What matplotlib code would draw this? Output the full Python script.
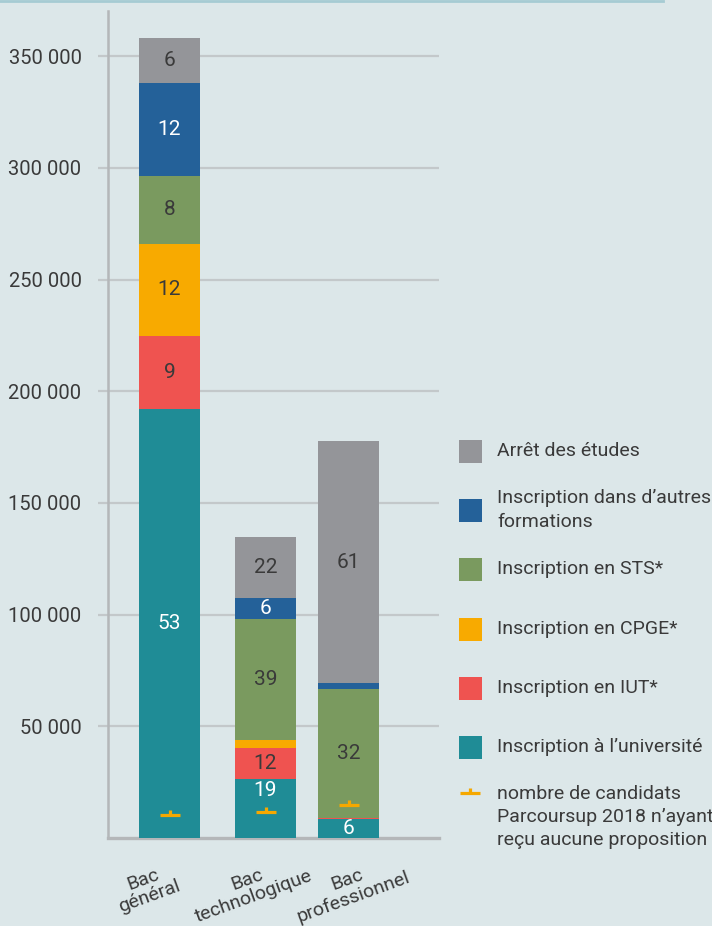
import matplotlib
matplotlib.use("Agg")
import matplotlib.pyplot as plt
from matplotlib import font_manager as fm
from matplotlib.path import Path
from matplotlib.patches import Rectangle
from matplotlib.lines import Line2D

# pick a condensed font if one is installed
fams = {}
for f in fm.fontManager.ttflist:
    fams.setdefault(f.name, set()).add(str(f.stretch))
FS = 14.0
STRETCH = 'normal'
FAMILY = ['Roboto', 'DejaVu Sans']
if 'Liberation Sans Narrow' in fams:
    FAMILY = ['Liberation Sans Narrow', 'DejaVu Sans']
    FS = 15.5
elif 'Noto Sans' in fams and (fams['Noto Sans'] & {'condensed', '300', '62.5', '75'}):
    FAMILY = ['Noto Sans', 'DejaVu Sans']
    STRETCH = 'condensed'
    FS = 15.5
elif 'Noto Sans' in fams and (fams['Noto Sans'] & {'semi-condensed', '87.5', '400'}):
    FAMILY = ['Noto Sans', 'DejaVu Sans']
    STRETCH = 'semi-condensed'
    FS = 14.5
plt.rcParams['font.family'] = FAMILY
plt.rcParams['font.stretch'] = STRETCH

# ---------------- data ----------------
categories = ['Bac\ngénéral', 'Bac\ntechnologique', 'Bac\nprofessionnel']
series_names = ['Inscription à l’université', 'Inscription en IUT*', 'Inscription en CPGE*',
                'Inscription en STS*', 'Inscription dans d’autres\nformations', 'Arrêt des études']
univ = [192000, 26500, 8300]
iut = [32700, 14000, 700]
cpge = [41200, 3200, 0]
sts = [30600, 54500, 57500]
autres = [41600, 9200, 2700]
arret = [20000, 27500, 108500]
univ_lbl = ['53', '19', '6']
iut_lbl = ['9', '12', '']
cpge_lbl = ['12', '', '']
sts_lbl = ['8', '39', '32']
autres_lbl = ['12', '6', '']
arret_lbl = ['6', '22', '61']
no_offer = [10400, 11800, 14800]
no_offer_name = 'nombre de candidats\nParcoursup 2018 n’ayant\nreçu aucune proposition'
yticks = [50000, 100000, 150000, 200000, 250000, 300000, 350000]

# ---------------- style ----------------
colors = ['#1f8c96', '#ef5350', '#f8aa00', '#7a9a5f', '#246199', '#949599']
txt_colors = ['white', '#3a3a3a', '#3a3a3a', '#3a3a3a', 'white', '#3a3a3a']
bg = '#dce7e9'
dark = '#3a3a3a'
orange = '#f5a800'
FS_BAR = FS + 1.0
FS_TICK = FS + 0.5

W, H = 712, 926
fig = plt.figure(figsize=(W / 100, H / 100), dpi=100, facecolor=bg)

ax_l, ax_r, ax_t, ax_b = 108, 439, 11, 838
ax = fig.add_axes([ax_l / W, (H - ax_b) / H, (ax_r - ax_l) / W, (ax_b - ax_t) / H])
ax.set_facecolor(bg)

xpos = [61.5, 157.5, 240.5]
bar_w = 61
ax.set_xlim(0, ax_r - ax_l)
px_per_unit = 2.234 / 1000
ax.set_ylim(0, (ax_b - ax_t) / px_per_unit)

all_series = [univ, iut, cpge, sts, autres, arret]
all_lbls = [univ_lbl, iut_lbl, cpge_lbl, sts_lbl, autres_lbl, arret_lbl]
bottoms = [0, 0, 0]
for s, (vals, lbls) in enumerate(zip(all_series, all_lbls)):
    ax.bar(xpos, vals, width=bar_w, bottom=bottoms, color=colors[s], zorder=3, linewidth=0)
    for i, (v, lb) in enumerate(zip(vals, lbls)):
        if lb:
            b0, top = bottoms[i], bottoms[i] + v
            mid = (b0 + top) / 2
            m = no_offer[i]
            if b0 <= m <= top and abs(mid - m) < 12000:
                ax.annotate(lb, xy=(xpos[i], top), xytext=(0, -2), textcoords='offset pixels',
                            ha='center', va='top', fontsize=FS_BAR, color=txt_colors[s], zorder=5)
            else:
                ax.text(xpos[i], mid, lb, ha='center', va='center', fontsize=FS_BAR,
                        color=txt_colors[s], zorder=5)
    bottoms = [b + v for b, v in zip(bottoms, vals)]

# marker for candidates without proposal
mpath = Path([(-1, 0), (1, 0), (0, 0), (0, 0.5)],
             [Path.MOVETO, Path.LINETO, Path.MOVETO, Path.LINETO])
ax.plot(xpos, no_offer, linestyle='none', marker=mpath, markersize=14.5,
        markeredgecolor=orange, markerfacecolor='none', markeredgewidth=2.3, zorder=6)

# axes styling
ax.set_yticks(yticks)
ax.set_yticklabels([f"{v:,}".replace(',', ' ') for v in yticks], fontsize=FS_TICK, color=dark)
ax.tick_params(axis='y', length=7, width=1.6, color='#c3c8ca', pad=12)
ax.yaxis.grid(True, color='#c3c8ca', linewidth=1.6, zorder=0)
ax.set_axisbelow(True)
ax.set_xticks([])
for sp in ['top', 'right']:
    ax.spines[sp].set_visible(False)
ax.spines['left'].set_color('#b4b7b9')
ax.spines['left'].set_linewidth(1.8)
ax.spines['bottom'].set_color('#b4b7b9')
ax.spines['bottom'].set_linewidth(2.4)

# category labels
lbl_dx = [-23, -15, 2]
for x, c, dx in zip(xpos, categories, lbl_dx):
    ax.annotate(c, xy=(x, 0), xycoords=('data', 'axes fraction'), xytext=(dx, -50),
                textcoords='offset pixels', ha='center', va='center', rotation=20,
                rotation_mode='anchor', multialignment='center', fontsize=FS,
                color=dark, linespacing=1.05, annotation_clip=False)

# legend in pixel coordinates
lg = fig.add_axes([0, 0, 1, 1], facecolor='none')
lg.set_xlim(0, W)
lg.set_ylim(H, 0)
lg.axis('off')
sq = 23
leg_y = [747, 688, 629, 569, 510, 451]
for s in range(6):
    lg.add_patch(Rectangle((459, leg_y[s] - sq / 2), sq, sq, color=colors[s], linewidth=0))
    lg.text(497, leg_y[s], series_names[s], ha='left', va='center', fontsize=FS,
            color=dark, linespacing=1.37)
lg.plot([470], [793], linestyle='none', marker=mpath, markersize=14.5,
        markeredgecolor=orange, markerfacecolor='none', markeredgewidth=2.3)
lg.text(497, 817, no_offer_name, ha='left', va='center', fontsize=FS, color=dark,
        linespacing=1.37)
lg.add_line(Line2D([0, 663], [1, 1], color='#a6cbd3', linewidth=2))

fig.savefig('out.png', dpi=100, facecolor=bg)
